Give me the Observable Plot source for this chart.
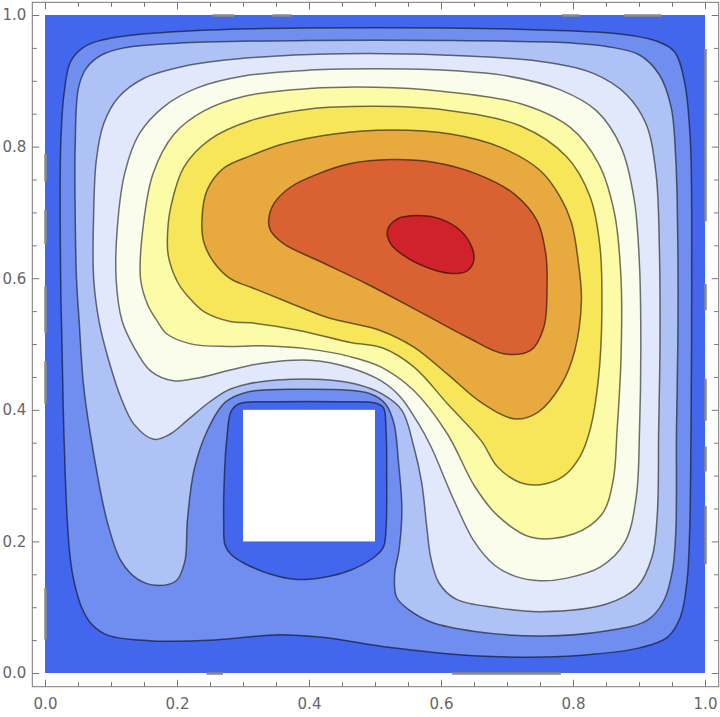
<!DOCTYPE html>
<html><head><meta charset="utf-8">
<script src="https://cdn.jsdelivr.net/npm/d3@7"></script>
<script src="https://cdn.jsdelivr.net/npm/@observablehq/plot@0.6"></script>
<style>body{margin:0;background:#fff;}</style>
</head><body><div id="chart"></div>
<script>
// Band colours, outermost (level 0) to innermost (level 9)
const bandColors = ["#4266EC","#6F8EF0","#AFC2F5","#E1E8FB","#FAFCEC","#FBFBA8","#F7E65A","#E8A93F","#DA6232","#D0222A"];

// Contour polygons, [x, y] in data units
const c1 = [[0.023,0.6],[0.025,0.5],[0.027,0.4],[0.03,0.3],[0.033,0.233],[0.037,0.18],[0.043,0.141],[0.055,0.1],[0.07,0.075],[0.095,0.058],[0.157,0.05],[0.256,0.051],[0.354,0.059],[0.42,0.055],[0.52,0.04],[0.65,0.027],[0.75,0.025],[0.826,0.029],[0.9,0.039],[0.942,0.055],[0.962,0.086],[0.972,0.141],[0.976,0.217],[0.978,0.37],[0.979,0.6],[0.977,0.81],[0.968,0.9],[0.953,0.945],[0.923,0.962],[0.87,0.972],[0.75,0.978],[0.6,0.981],[0.4,0.981],[0.25,0.978],[0.13,0.97],[0.083,0.962],[0.058,0.952],[0.038,0.93],[0.028,0.88],[0.023,0.8]];
const island = [[0.27,0.23],[0.271,0.3],[0.275,0.36],[0.281,0.398],[0.293,0.41],[0.35,0.413],[0.45,0.413],[0.5,0.411],[0.512,0.404],[0.516,0.37],[0.517,0.3],[0.516,0.22],[0.512,0.192],[0.497,0.176],[0.462,0.157],[0.421,0.146],[0.382,0.143],[0.341,0.151],[0.3,0.168],[0.282,0.18],[0.272,0.195]];
const c2 = [[0.045,0.8],[0.045,0.7],[0.047,0.6],[0.051,0.536],[0.058,0.435],[0.073,0.334],[0.093,0.233],[0.114,0.172],[0.139,0.144],[0.169,0.134],[0.198,0.141],[0.211,0.17],[0.215,0.233],[0.225,0.309],[0.245,0.369],[0.272,0.412],[0.306,0.428],[0.391,0.432],[0.49,0.426],[0.515,0.41],[0.528,0.38],[0.535,0.32],[0.54,0.25],[0.536,0.19],[0.529,0.15],[0.532,0.116],[0.552,0.096],[0.585,0.078],[0.651,0.064],[0.75,0.057],[0.851,0.065],[0.912,0.081],[0.937,0.111],[0.95,0.157],[0.955,0.217],[0.956,0.37],[0.958,0.5],[0.958,0.65],[0.955,0.78],[0.948,0.86],[0.93,0.91],[0.9,0.94],[0.85,0.953],[0.8,0.958],[0.6,0.962],[0.4,0.962],[0.2,0.958],[0.12,0.951],[0.085,0.94],[0.062,0.92],[0.05,0.89]];
const c3 = [[0.073,0.7],[0.073,0.6],[0.081,0.536],[0.093,0.486],[0.114,0.42],[0.134,0.379],[0.164,0.356],[0.189,0.364],[0.215,0.385],[0.245,0.41],[0.275,0.43],[0.306,0.44],[0.35,0.446],[0.42,0.447],[0.47,0.44],[0.51,0.425],[0.54,0.4],[0.558,0.345],[0.57,0.29],[0.578,0.22],[0.584,0.175],[0.596,0.138],[0.622,0.113],[0.684,0.1],[0.75,0.094],[0.851,0.106],[0.896,0.131],[0.919,0.177],[0.927,0.243],[0.929,0.369],[0.931,0.5],[0.93,0.65],[0.925,0.76],[0.91,0.835],[0.88,0.88],[0.83,0.912],[0.75,0.93],[0.6,0.94],[0.45,0.942],[0.3,0.935],[0.21,0.923],[0.15,0.905],[0.11,0.875],[0.088,0.835],[0.077,0.78]];
const c4 = [[0.107,0.6],[0.116,0.536],[0.134,0.496],[0.159,0.46],[0.194,0.445],[0.235,0.45],[0.275,0.46],[0.326,0.471],[0.4,0.476],[0.46,0.465],[0.508,0.445],[0.538,0.42],[0.565,0.38],[0.584,0.345],[0.619,0.263],[0.65,0.2],[0.68,0.165],[0.711,0.148],[0.75,0.141],[0.79,0.145],[0.841,0.162],[0.878,0.2],[0.895,0.268],[0.9,0.369],[0.902,0.5],[0.9,0.62],[0.892,0.72],[0.872,0.8],[0.835,0.855],[0.78,0.887],[0.7,0.908],[0.6,0.917],[0.5,0.919],[0.4,0.917],[0.3,0.908],[0.23,0.89],[0.18,0.862],[0.142,0.82],[0.12,0.76],[0.109,0.68]];
const c5 = [[0.144,0.6],[0.155,0.56],[0.169,0.536],[0.184,0.516],[0.22,0.501],[0.275,0.497],[0.326,0.498],[0.4,0.493],[0.46,0.482],[0.508,0.466],[0.558,0.43],[0.609,0.364],[0.65,0.285],[0.685,0.24],[0.736,0.207],[0.8,0.212],[0.843,0.242],[0.86,0.293],[0.866,0.369],[0.872,0.48],[0.872,0.6],[0.862,0.7],[0.838,0.775],[0.795,0.83],[0.72,0.866],[0.6,0.885],[0.5,0.891],[0.4,0.889],[0.3,0.877],[0.24,0.855],[0.195,0.82],[0.163,0.76],[0.148,0.68]];
const c6 = [[0.186,0.635],[0.2,0.595],[0.215,0.574],[0.24,0.55],[0.28,0.535],[0.311,0.533],[0.386,0.521],[0.462,0.503],[0.51,0.495],[0.558,0.466],[0.609,0.41],[0.66,0.354],[0.685,0.314],[0.72,0.29],[0.75,0.287],[0.785,0.3],[0.81,0.33],[0.825,0.37],[0.838,0.45],[0.843,0.55],[0.84,0.65],[0.825,0.725],[0.79,0.785],[0.72,0.832],[0.6,0.857],[0.5,0.862],[0.4,0.858],[0.31,0.84],[0.25,0.812],[0.21,0.77],[0.19,0.71],[0.185,0.67]];
const c7 = [[0.311,0.587],[0.28,0.6],[0.255,0.625],[0.24,0.655],[0.237,0.69],[0.245,0.735],[0.27,0.768],[0.311,0.787],[0.361,0.805],[0.437,0.82],[0.523,0.826],[0.614,0.82],[0.689,0.8],[0.75,0.764],[0.78,0.724],[0.797,0.685],[0.808,0.62],[0.812,0.567],[0.802,0.491],[0.782,0.44],[0.746,0.397],[0.711,0.387],[0.66,0.412],[0.609,0.455],[0.558,0.496],[0.508,0.521],[0.427,0.541],[0.361,0.567]];
const c8 = [[0.338,0.688],[0.346,0.714],[0.371,0.739],[0.412,0.759],[0.462,0.775],[0.523,0.781],[0.588,0.777],[0.654,0.759],[0.71,0.729],[0.745,0.688],[0.758,0.638],[0.76,0.587],[0.755,0.526],[0.735,0.491],[0.694,0.486],[0.639,0.511],[0.563,0.552],[0.487,0.592],[0.412,0.628],[0.361,0.653],[0.341,0.673]];
const c9 = [[0.518,0.673],[0.533,0.691],[0.563,0.696],[0.598,0.691],[0.629,0.673],[0.646,0.648],[0.649,0.628],[0.639,0.612],[0.614,0.608],[0.578,0.617],[0.543,0.635],[0.523,0.653]];

// Obstacle (white square)
const obstacle = [{x1:0.3, x2:0.5, y1:0.2, y2:0.4}];

// Boundary artefact segments (ranges along each edge)
const dashLeft = [[0.052,0.13],[0.41,0.475],[0.518,0.588],[0.653,0.705],[0.748,0.79]];
const dashRight = [[0.166,0.255],[0.307,0.345],[0.384,0.448],[0.552,0.592],[0.687,0.949]];
const dashTop = [[0.253,0.286],[0.344,0.373],[0.782,0.809],[0.876,0.933]];
const dashBottom = [[0.244,0.269],[0.616,0.781]];

// Ticks
const majorTicks = [0, 0.2, 0.4, 0.6, 0.8, 1.0];
const minorTicks = [0.05,0.1,0.15,0.25,0.3,0.35,0.45,0.5,0.55,0.65,0.7,0.75,0.85,0.9,0.95];

const W = 720, H = 717;
const mL = 31.8, mR = 1.8, mT = 1.84, mB = 30.8;
const lo = -0.02, hi = 1.02;
const kx = (W - mL - mR) / (hi - lo), ky = (H - mT - mB) / (hi - lo);
const majLen = 7, minLen = 4.5;

const lineStyle = {stroke: "#000", strokeOpacity: 0.55, strokeWidth: 1.5, curve: "catmull-rom-closed"};
const poly = (pts, color) => Plot.line(pts, {x: d => d[0], y: d => d[1], fill: color, ...lineStyle});

const tickSegs = [];
for (const [list, len] of [[majorTicks, majLen], [minorTicks, minLen]]) {
  for (const t of list) {
    tickSegs.push({x1: t, x2: t, y1: lo, y2: lo + len / ky});
    tickSegs.push({x1: t, x2: t, y1: hi, y2: hi - len / ky});
    tickSegs.push({y1: t, y2: t, x1: lo, x2: lo + len / kx});
    tickSegs.push({y1: t, y2: t, x1: hi, x2: hi - len / kx});
  }
}
const dashSegs = [
  ...dashLeft.map(([a,b]) => ({x1:0, x2:0, y1:a, y2:b})),
  ...dashRight.map(([a,b]) => ({x1:1, x2:1, y1:a, y2:b})),
  ...dashTop.map(([a,b]) => ({x1:a, x2:b, y1:1, y2:1})),
  ...dashBottom.map(([a,b]) => ({x1:a, x2:b, y1:0, y2:0}))
];

const chart = Plot.plot({
  width: W, height: H,
  marginLeft: mL, marginRight: mR, marginTop: mT, marginBottom: mB,
  x: {domain: [lo, hi], axis: null},
  y: {domain: [lo, hi], axis: null},
  style: {fontFamily: "DejaVu Sans", background: "white"},
  marks: [
    Plot.rect([{x1:0, x2:1, y1:0, y2:1}], {x1:"x1", x2:"x2", y1:"y1", y2:"y2", fill: bandColors[0]}),
    poly(c1, bandColors[1]),
    poly(island, bandColors[0]),
    Plot.rect(obstacle, {x1:"x1", x2:"x2", y1:"y1", y2:"y2", fill: "white"}),
    poly(c2, bandColors[2]),
    poly(c3, bandColors[3]),
    poly(c4, bandColors[4]),
    poly(c5, bandColors[5]),
    poly(c6, bandColors[6]),
    poly(c7, bandColors[7]),
    poly(c8, bandColors[8]),
    poly(c9, bandColors[9]),
    Plot.link(dashSegs, {x1:"x1", x2:"x2", y1:"y1", y2:"y2", stroke: "#8a8a8a", strokeWidth: 2.5}),
    Plot.frame({stroke: "#777", strokeWidth: 1}),
    Plot.link(tickSegs, {x1:"x1", x2:"x2", y1:"y1", y2:"y2", stroke: "#777", strokeWidth: 1}),
    Plot.text(majorTicks, {x: d => d, y: lo, dy: 17, text: d => d.toFixed(1), fill: "#666", fontSize: 15}),
    Plot.text(majorTicks, {x: lo, y: d => d, dx: -6, textAnchor: "end", text: d => d.toFixed(1), fill: "#666", fontSize: 15})
  ]
});
document.getElementById("chart").appendChild(chart);
</script>
</body></html>
